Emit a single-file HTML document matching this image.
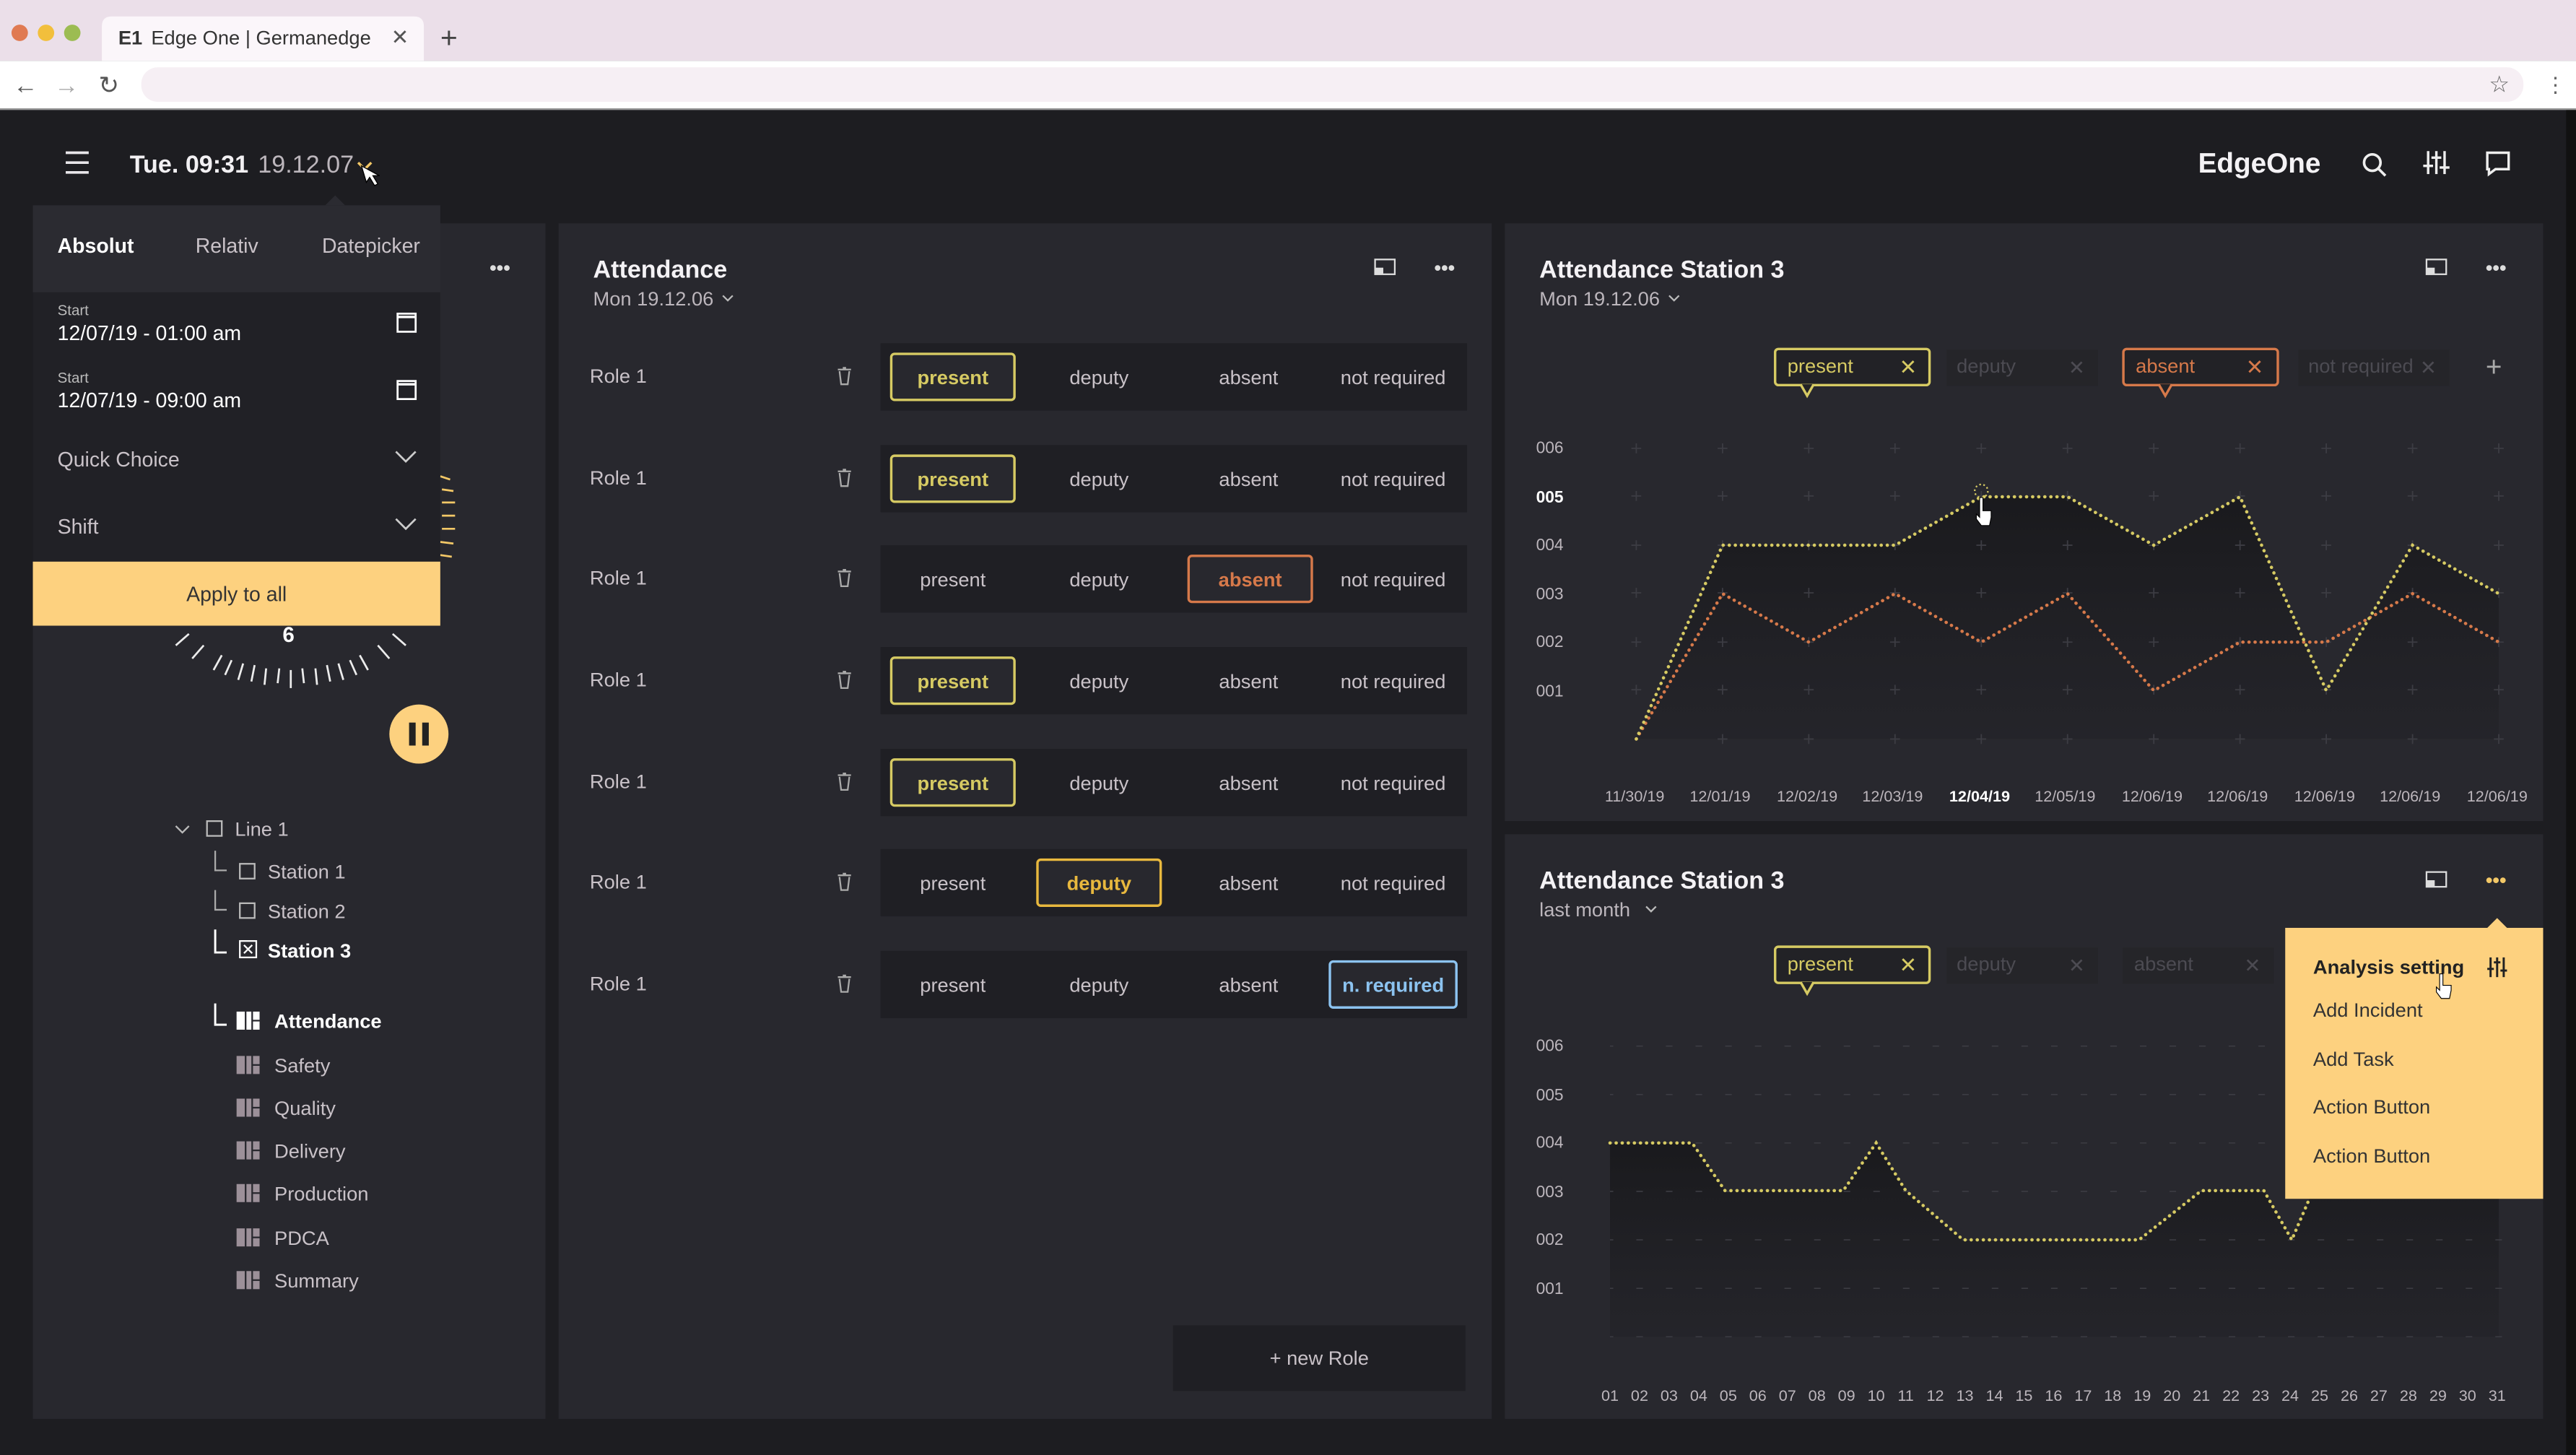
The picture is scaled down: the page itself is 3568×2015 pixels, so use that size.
<!DOCTYPE html>
<html><head><meta charset="utf-8"><style>
html,body{margin:0;padding:0;background:#1c1c20;overflow:hidden}
svg{display:block}
text{font-family:"Liberation Sans",sans-serif}
</style></head><body>
<svg width="3568" height="2015" viewBox="0 0 1568 886" preserveAspectRatio="none" xmlns="http://www.w3.org/2000/svg">
<defs>
<linearGradient id="fg" x1="0" y1="0" x2="0" y2="1"><stop offset="0" stop-color="#18181b" stop-opacity="0.9"/><stop offset="1" stop-color="#222227" stop-opacity="0.6"/></linearGradient>
</defs>
<!-- browser chrome -->
<rect x="0" y="0" width="1568" height="37" fill="#ebdfe9"/>
<circle cx="12" cy="20" r="5" fill="#e07a52"/><circle cx="28" cy="20" r="5" fill="#f2bf3c"/><circle cx="44" cy="20" r="5" fill="#9cbc52"/>
<path d="M62 37 V16 q0-6 6-6 H252 q6 0 6 6 V37 Z" fill="#fbf6fa"/>
<text x="72" y="27" font-size="12" font-weight="bold" fill="#333">E1</text>
<text x="92" y="27" font-size="12" fill="#333">Edge One | Germanedge</text>
<text x="238" y="27" font-size="13" fill="#555">✕</text>
<text x="268" y="29" font-size="18" fill="#444">+</text>
<rect x="0" y="37" width="1568" height="29" fill="#ffffff"/>
<text x="8" y="57" font-size="15" fill="#555">←</text><text x="33" y="57" font-size="15" fill="#aaa">→</text><text x="60" y="57" font-size="15" fill="#555">↻</text>
<rect x="86" y="41" width="1450" height="21" rx="10" fill="#f6eff4"/>
<text x="1515" y="56" font-size="14" fill="#666">☆</text><text x="1549" y="56" font-size="13" fill="#666">⋮</text>
<rect x="0" y="66" width="1568" height="1.5" fill="#999"/>
<!-- app bg -->
<rect x="0" y="67" width="1568" height="819" fill="#1d1d21"/>
<rect x="1562" y="67" width="6" height="819" fill="#111"/>
<!-- header -->
<g stroke="#e8e6ea" stroke-width="1.6"><line x1="40" y1="93" x2="54" y2="93"/><line x1="40" y1="99" x2="54" y2="99"/><line x1="40" y1="105" x2="54" y2="105"/></g>
<text x="79" y="105" font-size="15" font-weight="bold" fill="#f2f0f3">Tue. 09:31</text>
<text x="157" y="105" font-size="15" fill="#bcb6bc">19.12.07</text>
<path d="M218 99 l4 4 l4 -4" stroke="#f3c867" stroke-width="1.5" fill="none"/>
<text x="1338" y="105" font-size="17" font-weight="bold" fill="#f4f2f5">EdgeOne</text>
<circle cx="1444" cy="99" r="5" stroke="#eee" stroke-width="1.6" fill="none"/><line x1="1448" y1="103" x2="1452" y2="107" stroke="#eee" stroke-width="1.6"/>
<g stroke="#eee" stroke-width="1.5"><line x1="1478" y1="92" x2="1478" y2="106"/><line x1="1483" y1="92" x2="1483" y2="106"/><line x1="1488" y1="92" x2="1488" y2="106"/><line x1="1475" y1="101" x2="1481" y2="101"/><line x1="1480" y1="96" x2="1486" y2="96"/><line x1="1485" y1="102" x2="1491" y2="102"/></g>
<path d="M1514 93 h13 v10 h-8 l-4 3 v-3 h-1 z" stroke="#eee" stroke-width="1.5" fill="none"/>
<!-- panels -->
<rect x="20" y="136" width="312" height="728" fill="#28282e"/>
<rect x="340" y="136" width="568" height="728" fill="#28282e"/>
<rect x="916" y="136" width="632" height="364" fill="#28282e"/>
<rect x="916" y="508" width="632" height="356" fill="#28282e"/>
<text x="298" y="167" font-size="12" font-weight="bold" fill="#ddd">•••</text>
<!-- clock -->
<g stroke="#ececec" stroke-width="1.2">
<line x1="177" y1="408" x2="177" y2="419"/><line x1="162" y1="407" x2="161" y2="417"/><line x1="192" y1="407" x2="193" y2="417"/>
<line x1="148" y1="404" x2="145" y2="414"/><line x1="206" y1="404" x2="209" y2="414"/>
<line x1="135" y1="399" x2="130" y2="408"/><line x1="219" y1="399" x2="224" y2="408"/>
<line x1="124" y1="393" x2="117" y2="401"/><line x1="230" y1="393" x2="237" y2="401"/>
<line x1="115" y1="386" x2="107" y2="393"/><line x1="239" y1="386" x2="247" y2="393"/>
<line x1="170" y1="407" x2="169" y2="416"/><line x1="184" y1="407" x2="185" y2="416"/>
<line x1="155" y1="405" x2="153" y2="415"/><line x1="199" y1="405" x2="201" y2="415"/>
<line x1="141" y1="402" x2="137" y2="411"/><line x1="213" y1="402" x2="217" y2="411"/>
</g>
<text x="172" y="391" font-size="13" font-weight="bold" fill="#fff">6</text>
<g stroke="#f3c867" stroke-width="1.2">
<line x1="268" y1="290" x2="274" y2="292"/><line x1="269" y1="298" x2="276" y2="299"/><line x1="269" y1="306" x2="277" y2="306"/><line x1="269" y1="314" x2="277" y2="314"/><line x1="269" y1="322" x2="277" y2="322"/><line x1="268" y1="330" x2="276" y2="331"/><line x1="268" y1="338" x2="275" y2="339"/>
</g>
<circle cx="255" cy="447" r="18" fill="#fdd17f"/>
<rect x="249" y="440" width="4" height="14" fill="#222"/><rect x="257" y="440" width="4" height="14" fill="#222"/>
<!-- tree -->
<path d="M107 503 l4 4 l4 -4" stroke="#bbb" stroke-width="1" fill="none"/>
<rect x="126" y="500" width="9" height="9" stroke="#bbb" fill="none"/>
<text x="143" y="509" font-size="12" fill="#c9c2c8">Line 1</text>
<path d="M131 518 v12 h7" stroke="#aaa" fill="none"/><rect x="146" y="526" width="9" height="9" stroke="#bbb" fill="none"/>
<text x="163" y="535" font-size="12" fill="#c9c2c8">Station 1</text>
<path d="M131 542 v12 h7" stroke="#aaa" fill="none"/><rect x="146" y="550" width="9" height="9" stroke="#bbb" fill="none"/>
<text x="163" y="559" font-size="12" fill="#c9c2c8">Station 2</text>
<path d="M131 566 v14 h7" stroke="#fff" stroke-width="1.3" fill="none"/><rect x="146" y="573" width="10" height="10" stroke="#fff" fill="none"/>
<path d="M148.5 575.5 l5 5 M153.5 575.5 l-5 5" stroke="#fff"/>
<text x="163" y="583" font-size="12" font-weight="bold" fill="#fff">Station 3</text>
<path d="M131 611 v13 h7" stroke="#fff" stroke-width="1.3" fill="none"/>
<g fill="#fff"><rect x="144" y="616" width="5" height="11"/><rect x="150" y="616" width="3" height="11"/><rect x="154" y="616" width="4" height="5"/><rect x="154" y="622" width="4" height="5"/></g>
<text x="167" y="626" font-size="12" font-weight="bold" fill="#fff">Attendance</text>
<g fill="#9c9099">
<rect x="144" y="643" width="5" height="11"/><rect x="150" y="643" width="3" height="11"/><rect x="154" y="643" width="4" height="5"/><rect x="154" y="649" width="4" height="5"/>
<rect x="144" y="669" width="5" height="11"/><rect x="150" y="669" width="3" height="11"/><rect x="154" y="669" width="4" height="5"/><rect x="154" y="675" width="4" height="5"/>
<rect x="144" y="695" width="5" height="11"/><rect x="150" y="695" width="3" height="11"/><rect x="154" y="695" width="4" height="5"/><rect x="154" y="701" width="4" height="5"/>
<rect x="144" y="721" width="5" height="11"/><rect x="150" y="721" width="3" height="11"/><rect x="154" y="721" width="4" height="5"/><rect x="154" y="727" width="4" height="5"/>
<rect x="144" y="748" width="5" height="11"/><rect x="150" y="748" width="3" height="11"/><rect x="154" y="748" width="4" height="5"/><rect x="154" y="754" width="4" height="5"/>
<rect x="144" y="774" width="5" height="11"/><rect x="150" y="774" width="3" height="11"/><rect x="154" y="774" width="4" height="5"/><rect x="154" y="780" width="4" height="5"/>
</g>
<g font-size="12" fill="#c9c2c8">
<text x="167" y="653">Safety</text><text x="167" y="679">Quality</text><text x="167" y="705">Delivery</text><text x="167" y="731">Production</text><text x="167" y="758">PDCA</text><text x="167" y="784">Summary</text>
</g>
<!-- dropdown -->
<path d="M198 125 l6 -6 l6 6 z" fill="#2b2b31"/>
<rect x="20" y="125" width="248" height="53" fill="#2b2b31"/>
<rect x="20" y="178" width="248" height="164" fill="#212126"/>
<text x="35" y="154" font-size="12.5" font-weight="bold" fill="#fff">Absolut</text>
<text x="119" y="154" font-size="12.5" fill="#c9c2c8">Relativ</text>
<text x="196" y="154" font-size="12.5" fill="#c9c2c8">Datepicker</text>
<text x="35" y="192" font-size="9" fill="#bbb">Start</text>
<text x="35" y="207" font-size="12.5" fill="#fff">12/07/19 - 01:00 am</text>
<text x="35" y="233" font-size="9" fill="#bbb">Start</text>
<text x="35" y="248" font-size="12.5" fill="#fff">12/07/19 - 09:00 am</text>
<rect x="242" y="191" width="11" height="11" stroke="#fff" stroke-width="1.2" fill="none"/><line x1="242" y1="193" x2="253" y2="193" stroke="#fff" stroke-width="1.5"/>
<rect x="242" y="232" width="11" height="11" stroke="#fff" stroke-width="1.2" fill="none"/><line x1="242" y1="234" x2="253" y2="234" stroke="#fff" stroke-width="1.5"/>
<text x="35" y="284" font-size="12.5" fill="#c9c2c8">Quick Choice</text>
<path d="M241 275 l6 6 l6 -6" stroke="#ccc" stroke-width="1.2" fill="none"/>
<text x="35" y="325" font-size="12.5" fill="#c9c2c8">Shift</text>
<path d="M241 316 l6 6 l6 -6" stroke="#ccc" stroke-width="1.2" fill="none"/>
<rect x="20" y="342" width="248" height="39" fill="#fdd17f"/>
<text x="144" y="366" font-size="12.5" fill="#333" text-anchor="middle">Apply to all</text>
<path d="M220 101 l3 10 l2 -3 l3 5 l2 -1 l-3 -5 l4 0 z" fill="#fff" stroke="#000" stroke-width="0.6"/>
<!-- middle panel -->
<text x="361" y="169" font-size="15" font-weight="bold" fill="#f4f2f5">Attendance</text>
<text x="361" y="186" font-size="12" fill="#bcb6bc">Mon 19.12.06</text>
<path d="M440 180 l3 3 l3 -3" stroke="#bbb" fill="none"/>
<rect x="837" y="158" width="12" height="9" stroke="#ddd" fill="none"/><rect x="837" y="163" width="5" height="4" fill="#ddd"/>
<text x="873" y="167" font-size="12" font-weight="bold" fill="#ddd">•••</text>
<g id="rows" font-size="12" fill="#c9c2c8">
<g transform="translate(0,0)">
</g>
</g>
<!-- rows generated manually -->
<g font-size="12">
<!-- row template: center cy -->
<g fill="#1f1f24"><rect x="536" y="209" width="357" height="41"/><rect x="536" y="271" width="357" height="41"/><rect x="536" y="332" width="357" height="41"/><rect x="536" y="394" width="357" height="41"/><rect x="536" y="456" width="357" height="41"/><rect x="536" y="517" width="357" height="41"/><rect x="536" y="579" width="357" height="41"/></g>
<g fill="#c9c2c8">
<text x="359" y="233">Role 1</text><text x="359" y="295">Role 1</text><text x="359" y="356">Role 1</text><text x="359" y="418">Role 1</text><text x="359" y="480">Role 1</text><text x="359" y="541">Role 1</text><text x="359" y="603">Role 1</text>
</g>
<g fill="none" stroke="#aaa" stroke-width="1">
<path d="M510 225 h8 M513 224 h2 M511 226 l1 8 h4 l1 -8"/><path d="M510 287 h8 M513 286 h2 M511 288 l1 8 h4 l1 -8"/><path d="M510 348 h8 M513 347 h2 M511 349 l1 8 h4 l1 -8"/><path d="M510 410 h8 M513 409 h2 M511 411 l1 8 h4 l1 -8"/><path d="M510 472 h8 M513 471 h2 M511 473 l1 8 h4 l1 -8"/><path d="M510 533 h8 M513 532 h2 M511 534 l1 8 h4 l1 -8"/><path d="M510 595 h8 M513 594 h2 M511 596 l1 8 h4 l1 -8"/>
</g>
<!-- selected boxes -->
<rect x="542.5" y="215.5" width="75" height="28" rx="2" fill="#28282e" stroke="#d6ca63" stroke-width="1.5"/>
<rect x="542.5" y="277.5" width="75" height="28" rx="2" fill="#28282e" stroke="#d6ca63" stroke-width="1.5"/>
<rect x="723.5" y="338.5" width="75" height="28" rx="2" fill="#28282e" stroke="#d6794a" stroke-width="1.5"/>
<rect x="542.5" y="400.5" width="75" height="28" rx="2" fill="#28282e" stroke="#d6ca63" stroke-width="1.5"/>
<rect x="542.5" y="462.5" width="75" height="28" rx="2" fill="#28282e" stroke="#d6ca63" stroke-width="1.5"/>
<rect x="631.5" y="523.5" width="75" height="28" rx="2" fill="#28282e" stroke="#e8b83e" stroke-width="1.5"/>
<rect x="809.5" y="585.5" width="77" height="28" rx="2" fill="#28282e" stroke="#8cc3f0" stroke-width="1.5"/>
<g text-anchor="middle" fill="#c9c2c8">
<text x="580" y="234" fill="#d6ca63" font-weight="bold">present</text><text x="669" y="234">deputy</text><text x="760" y="234">absent</text><text x="848" y="234">not required</text>
<text x="580" y="296" fill="#d6ca63" font-weight="bold">present</text><text x="669" y="296">deputy</text><text x="760" y="296">absent</text><text x="848" y="296">not required</text>
<text x="580" y="357">present</text><text x="669" y="357">deputy</text><text x="761" y="357" fill="#d6794a" font-weight="bold">absent</text><text x="848" y="357">not required</text>
<text x="580" y="419" fill="#d6ca63" font-weight="bold">present</text><text x="669" y="419">deputy</text><text x="760" y="419">absent</text><text x="848" y="419">not required</text>
<text x="580" y="481" fill="#d6ca63" font-weight="bold">present</text><text x="669" y="481">deputy</text><text x="760" y="481">absent</text><text x="848" y="481">not required</text>
<text x="580" y="542">present</text><text x="669" y="542" fill="#e8b83e" font-weight="bold">deputy</text><text x="760" y="542">absent</text><text x="848" y="542">not required</text>
<text x="580" y="604">present</text><text x="669" y="604">deputy</text><text x="760" y="604">absent</text><text x="848" y="604" fill="#8cc3f0" font-weight="bold">n. required</text>
</g>
</g>
<rect x="714" y="807" width="178" height="40" fill="#1f1f24"/>
<text x="803" y="831" font-size="12" fill="#c9c2c8" text-anchor="middle">+ new Role</text>
<!-- right top chart -->
<text x="937" y="169" font-size="15" font-weight="bold" fill="#f4f2f5">Attendance Station 3</text>
<text x="937" y="186" font-size="12" fill="#bcb6bc">Mon 19.12.06</text>
<path d="M1016 180 l3 3 l3 -3" stroke="#bbb" fill="none"/>
<rect x="1477" y="158" width="12" height="9" stroke="#ddd" fill="none"/><rect x="1477" y="163" width="5" height="4" fill="#ddd"/>
<text x="1513" y="167" font-size="12" font-weight="bold" fill="#ddd">•••</text>
<!-- tags -->
<rect x="1080.5" y="212.5" width="94" height="22" rx="2" fill="#222226" stroke="#d6ca63" stroke-width="1.5"/>
<path d="M1096 234 l4 7 l4 -7" fill="#222226" stroke="#d6ca63" stroke-width="1.5"/>
<text x="1088" y="227" font-size="12" fill="#d6ca63">present</text><text x="1156" y="228" font-size="13" fill="#d6ca63">✕</text>
<rect x="1185" y="213" width="92" height="22" fill="#252529"/>
<text x="1191" y="227" font-size="12" fill="#4c4b52">deputy</text><text x="1259" y="228" font-size="12" fill="#4c4b52">✕</text>
<rect x="1292.5" y="212.5" width="94" height="22" rx="2" fill="#222226" stroke="#d6794a" stroke-width="1.5"/>
<path d="M1314 234 l4 7 l4 -7" fill="#222226" stroke="#d6794a" stroke-width="1.5"/>
<text x="1300" y="227" font-size="12" fill="#d6794a">absent</text><text x="1367" y="228" font-size="13" fill="#d6794a">✕</text>
<rect x="1399" y="213" width="92" height="22" fill="#252529"/>
<text x="1405" y="227" font-size="12" fill="#4c4b52">not required</text><text x="1473" y="228" font-size="12" fill="#4c4b52">✕</text>
<text x="1513" y="229" font-size="17" fill="#aaa">+</text>
<g font-size="10" fill="#bcb6bc">
<text x="935" y="276">006</text><text x="935" y="306" fill="#fff" font-weight="bold">005</text><text x="935" y="335">004</text><text x="935" y="365">003</text><text x="935" y="394">002</text><text x="935" y="424">001</text>
</g>
<path d="M996 450 L1048.5 332 L1101 332 L1153.5 332 L1206 302.5 L1258.5 302.5 L1311 332 L1363.5 302.5 L1416 420.5 L1468.5 332 L1521 361.5 L1521 450 Z" fill="url(#fg)"/>
<g stroke="#3e3e45" stroke-width="0.8" id="g1"></g>
<g stroke="#3c3c43" stroke-width="0.8">
<path d="M993 273h6M996 270v6M1045.5 273h6M1048.5 270v6M1098 273h6M1101 270v6M1150.5 273h6M1153.5 270v6M1203 273h6M1206 270v6M1255.5 273h6M1258.5 270v6M1308 273h6M1311 270v6M1360.5 273h6M1363.5 270v6M1413 273h6M1416 270v6M1465.5 273h6M1468.5 270v6M1518 273h6M1521 270v6"/>
<path d="M993 302h6M996 299v6M1045.5 302h6M1048.5 299v6M1098 302h6M1101 299v6M1150.5 302h6M1153.5 299v6M1203 302h6M1206 299v6M1255.5 302h6M1258.5 299v6M1308 302h6M1311 299v6M1360.5 302h6M1363.5 299v6M1413 302h6M1416 299v6M1465.5 302h6M1468.5 299v6M1518 302h6M1521 299v6"/>
<path d="M993 332h6M996 329v6M1045.5 332h6M1048.5 329v6M1098 332h6M1101 329v6M1150.5 332h6M1153.5 329v6M1203 332h6M1206 329v6M1255.5 332h6M1258.5 329v6M1308 332h6M1311 329v6M1360.5 332h6M1363.5 329v6M1413 332h6M1416 329v6M1465.5 332h6M1468.5 329v6M1518 332h6M1521 329v6"/>
<path d="M993 361h6M996 358v6M1045.5 361h6M1048.5 358v6M1098 361h6M1101 358v6M1150.5 361h6M1153.5 358v6M1203 361h6M1206 358v6M1255.5 361h6M1258.5 358v6M1308 361h6M1311 358v6M1360.5 361h6M1363.5 358v6M1413 361h6M1416 358v6M1465.5 361h6M1468.5 358v6M1518 361h6M1521 358v6"/>
<path d="M993 391h6M996 388v6M1045.5 391h6M1048.5 388v6M1098 391h6M1101 388v6M1150.5 391h6M1153.5 388v6M1203 391h6M1206 388v6M1255.5 391h6M1258.5 388v6M1308 391h6M1311 388v6M1360.5 391h6M1363.5 388v6M1413 391h6M1416 388v6M1465.5 391h6M1468.5 388v6M1518 391h6M1521 388v6"/>
<path d="M993 420h6M996 417v6M1045.5 420h6M1048.5 417v6M1098 420h6M1101 417v6M1150.5 420h6M1153.5 417v6M1203 420h6M1206 417v6M1255.5 420h6M1258.5 417v6M1308 420h6M1311 417v6M1360.5 420h6M1363.5 417v6M1413 420h6M1416 417v6M1465.5 420h6M1468.5 417v6M1518 420h6M1521 417v6"/>
<path d="M1045.5 450h6M1048.5 447v6M1098 450h6M1101 447v6M1150.5 450h6M1153.5 447v6M1203 450h6M1206 447v6M1255.5 450h6M1258.5 447v6M1308 450h6M1311 447v6M1360.5 450h6M1363.5 447v6M1413 450h6M1416 447v6M1465.5 450h6M1468.5 447v6M1518 450h6M1521 447v6"/>
</g>
<path d="M996 450 L1048.5 361.5 L1101 391 L1153.5 361.5 L1206 391 L1258.5 361.5 L1311 420.5 L1363.5 391 L1416 391 L1468.5 361.5 L1521 391" fill="none" stroke="#d6794a" stroke-width="2" stroke-dasharray="0.1 3.6" stroke-linecap="round"/>
<path d="M996 450 L1048.5 332 L1101 332 L1153.5 332 L1206 302.5 L1258.5 302.5 L1311 332 L1363.5 302.5 L1416 420.5 L1468.5 332 L1521 361.5" fill="none" stroke="#d6ca63" stroke-width="2" stroke-dasharray="0.1 3.6" stroke-linecap="round"/>
<circle cx="1206" cy="299" r="4" fill="none" stroke="#d6ca63" stroke-dasharray="1 1.5"/>
<path d="M1205 303 v12 l-2 -2 l0 3 l3 4 h5 l1 -5 l0 -4 h-5 v-8 z" fill="#fff" stroke="#000" stroke-width="0.5"/>
<g font-size="9.5" fill="#bcb6bc" text-anchor="middle">
<text x="995" y="488">11/30/19</text><text x="1047" y="488">12/01/19</text><text x="1100" y="488">12/02/19</text><text x="1152" y="488">12/03/19</text><text x="1205" y="488" fill="#fff" font-weight="bold">12/04/19</text><text x="1257" y="488">12/05/19</text><text x="1310" y="488">12/06/19</text><text x="1362" y="488">12/06/19</text><text x="1415" y="488">12/06/19</text><text x="1467" y="488">12/06/19</text><text x="1520" y="488">12/06/19</text>
</g>
<!-- right bottom chart -->
<text x="937" y="541" font-size="15" font-weight="bold" fill="#f4f2f5">Attendance Station 3</text>
<text x="937" y="558" font-size="12" fill="#bcb6bc">last month</text>
<path d="M1002 552 l3 3 l3 -3" stroke="#bbb" fill="none"/>
<rect x="1477" y="531" width="12" height="9" stroke="#ddd" fill="none"/><rect x="1477" y="536" width="5" height="4" fill="#ddd"/>
<text x="1513" y="540" font-size="12" font-weight="bold" fill="#f3c867">•••</text>
<rect x="1080.5" y="576.5" width="94" height="22" rx="2" fill="#222226" stroke="#d6ca63" stroke-width="1.5"/>
<path d="M1096 598 l4 7 l4 -7" fill="#222226" stroke="#d6ca63" stroke-width="1.5"/>
<text x="1088" y="591" font-size="12" fill="#d6ca63">present</text><text x="1156" y="592" font-size="13" fill="#d6ca63">✕</text>
<rect x="1185" y="577" width="92" height="22" fill="#252529"/>
<text x="1191" y="591" font-size="12" fill="#4c4b52">deputy</text><text x="1259" y="592" font-size="12" fill="#4c4b52">✕</text>
<rect x="1292" y="577" width="92" height="22" fill="#252529"/>
<text x="1299" y="591" font-size="12" fill="#4c4b52">absent</text><text x="1366" y="592" font-size="12" fill="#4c4b52">✕</text>
<g font-size="10" fill="#bcb6bc">
<text x="935" y="640">006</text><text x="935" y="670">005</text><text x="935" y="699">004</text><text x="935" y="729">003</text><text x="935" y="758">002</text><text x="935" y="788">001</text>
</g>
<path d="M980 696 L1030 696 L1050 725 L1122 725 L1142 696 L1160 725 L1195 755 L1302 755 L1340 725 L1378 725 L1395 755 L1410 720 L1521 720 L1521 814 L980 814 Z" fill="url(#fg)"/>
<g stroke="#3c3c43" stroke-width="0.7" stroke-dasharray="4 14.03" stroke-dashoffset="2">
<line x1="980" y1="637" x2="1525" y2="637"/><line x1="980" y1="666.5" x2="1525" y2="666.5"/><line x1="980" y1="696" x2="1525" y2="696"/><line x1="980" y1="725.5" x2="1525" y2="725.5"/><line x1="980" y1="755" x2="1525" y2="755"/><line x1="980" y1="784.5" x2="1525" y2="784.5"/><line x1="980" y1="814" x2="1525" y2="814"/>
</g>
<path d="M980 696 L1030 696 L1050 725 L1122 725 L1142 696 L1160 725 L1195 755 L1302 755 L1340 725 L1378 725 L1395 755 L1410 720 L1521 720" fill="none" stroke="#d6ca63" stroke-width="2" stroke-dasharray="0.1 3.6" stroke-linecap="round"/>
<g font-size="9.5" fill="#bcb6bc" text-anchor="middle">
<text x="980" y="853">01</text><text x="998" y="853">02</text><text x="1016" y="853">03</text><text x="1034" y="853">04</text><text x="1052" y="853">05</text><text x="1070" y="853">06</text><text x="1088" y="853">07</text><text x="1106" y="853">08</text><text x="1124" y="853">09</text><text x="1142" y="853">10</text><text x="1160" y="853">11</text><text x="1178" y="853">12</text><text x="1196" y="853">13</text><text x="1214" y="853">14</text><text x="1232" y="853">15</text><text x="1250" y="853">16</text><text x="1268" y="853">17</text><text x="1286" y="853">18</text><text x="1304" y="853">19</text><text x="1322" y="853">20</text><text x="1340" y="853">21</text><text x="1358" y="853">22</text><text x="1376" y="853">23</text><text x="1394" y="853">24</text><text x="1412" y="853">25</text><text x="1430" y="853">26</text><text x="1448" y="853">27</text><text x="1466" y="853">28</text><text x="1484" y="853">29</text><text x="1502" y="853">30</text><text x="1520" y="853">31</text>
</g>
<!-- menu -->
<path d="M1514 565 l6 -6 l6 6 z" fill="#fdd17f"/>
<rect x="1391" y="565" width="157" height="165" fill="#fdd17f"/>
<text x="1408" y="593" font-size="12" font-weight="bold" fill="#222">Analysis setting</text>
<g stroke="#222" stroke-width="1.3"><line x1="1516" y1="583" x2="1516" y2="595"/><line x1="1520" y1="583" x2="1520" y2="595"/><line x1="1524" y1="583" x2="1524" y2="595"/><line x1="1514" y1="590" x2="1518" y2="590"/><line x1="1518" y1="586" x2="1522" y2="586"/><line x1="1522" y1="591" x2="1526" y2="591"/></g>
<g font-size="12" fill="#333"><text x="1408" y="619">Add Incident</text><text x="1408" y="649">Add Task</text><text x="1408" y="678">Action Button</text><text x="1408" y="708">Action Button</text></g>
<path d="M1485 593 v10 l-2 -2 v3 l3 4 h5 l1 -5 v-3 h-5 v-7 z" fill="#fff" stroke="#000" stroke-width="0.5"/>
</svg>
</body></html>
